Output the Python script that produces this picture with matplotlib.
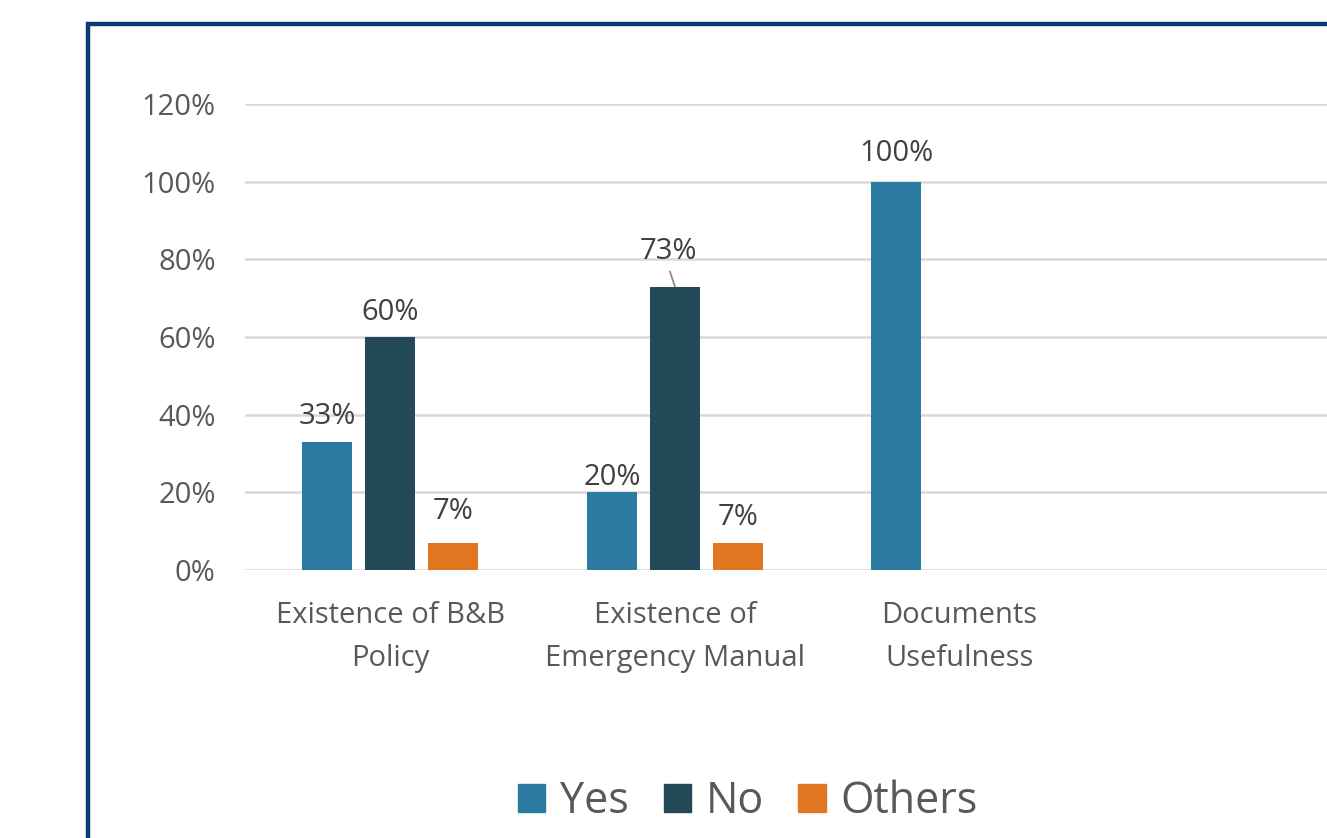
import numpy as np
import matplotlib
matplotlib.use("Agg")
import matplotlib.pyplot as plt
from matplotlib.patches import Patch, Rectangle

# data
categories = ["Existence of B&B\nPolicy", "Existence of\nEmergency Manual", "Documents\nUsefulness"]
series = ["Yes", "No", "Others"]
yes_vals = [0.33, 0.20, 1.00]
no_vals = [0.60, 0.73, None]
others_vals = [0.07, 0.07, None]
yticks = [0, 0.2, 0.4, 0.6, 0.8, 1.0, 1.2]

colors = {"Yes": "#2B7BA0", "No": "#244A5A", "Others": "#E0761F"}
font = ["Open Sans", "DejaVu Sans"]
plt.rcParams['font.family'] = font

W, H = 1327, 838
fig = plt.figure(figsize=(W / 100, H / 100), dpi=100)

# dark blue frame of the slide, cut off on right and bottom
fig.patches.append(Rectangle((88 / W, -0.1), 1.2, 1 - 24 / H + 0.1, transform=fig.transFigure,
                             fill=False, edgecolor="#0B3A73", linewidth=3.2, zorder=0))

# axes run past the right edge (space for an empty 4th slot)
ax = fig.add_axes([245 / W, 1 - 570 / H, (1383 - 245) / W, (570 - 104) / H])
ax.set_xlim(-0.5114, 3.4886)
ax.set_ylim(0, 1.2)

x = np.arange(len(categories))
bw = 50 / 284.5
step = 63 / 284.5

# label offsets in px (dx, dy above bar top) - small nudges like the source
nudge = {("Yes", 0): (0, 25), ("No", 0): (0, 25), ("Others", 0): (0, 31),
         ("Yes", 1): (0, 15), ("No", 1): (-7, 35), ("Others", 1): (0, 25),
         ("Yes", 2): (0, 28)}

for k, (name, vals) in enumerate(zip(series, [yes_vals, no_vals, others_vals])):
    for i, v in enumerate(vals):
        if v is None:
            continue
        xc = x[i] + (k - 1) * step
        ax.bar(xc, v, width=bw, color=colors[name], zorder=3)
        dx, dy = nudge[(name, i)]
        lead = dict(arrowstyle="-", color="#8c8c8c", lw=1.3, shrinkA=2, shrinkB=0,
                    relpos=(0.5, 0.0)) if (name, i) == ("No", 1) else None
        ax.annotate(f"{v * 100:.0f}%", xy=(xc, v), xytext=(dx * 0.72, dy * 0.72),
                    textcoords="offset points", ha="center", va="center",
                    fontsize=21, color="#404040", arrowprops=lead)

ax.set_yticks(yticks)
ax.set_yticklabels([f"{t * 100:.0f}%" for t in yticks])
ax.set_xticks(x)
ax.set_xticklabels(categories, linespacing=1.65)
ax.tick_params(axis="both", length=0, labelsize=21, labelcolor="#595959")
ax.tick_params(axis="y", pad=21)
ax.tick_params(axis="x", pad=22)
ax.grid(axis="y", color="#D9D9D9", linewidth=1.8, zorder=0)
for s in ax.spines.values():
    s.set_visible(False)

handles = [Patch(color=colors[s]) for s in series]
fig.legend(handles, series, loc="center", bbox_to_anchor=(748 / W, 1 - 802 / H), ncol=3,
           frameon=False, fontsize=31, labelcolor="#595959", handlelength=0.63,
           handleheight=0.63, handletextpad=0.35, columnspacing=0.8)

fig.savefig("out.png", dpi=100)
